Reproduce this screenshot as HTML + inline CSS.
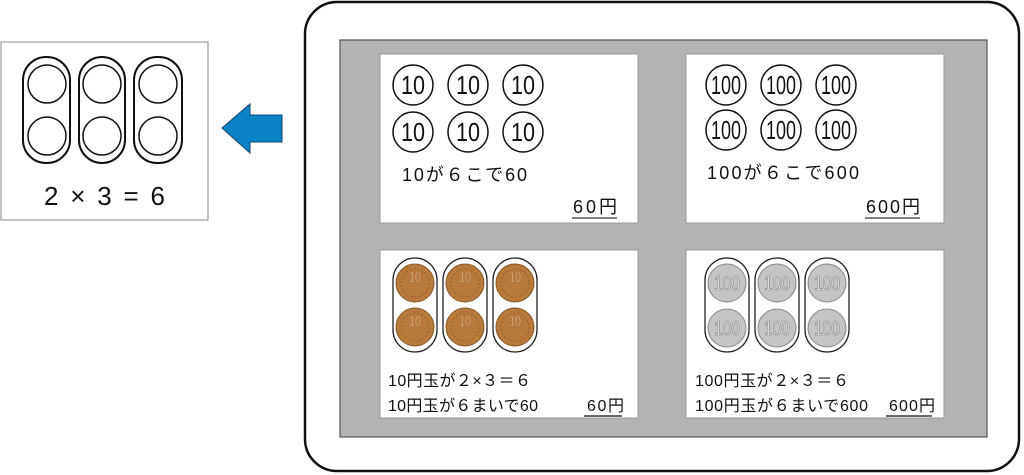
<!DOCTYPE html>
<html><head><meta charset="utf-8"><style>
html,body{margin:0;padding:0;background:#fff;width:1024px;height:475px;overflow:hidden}
text{font-family:"Liberation Sans","Noto Sans CJK JP",sans-serif;fill:#111}
</style></head><body>
<svg width="1024" height="475" viewBox="0 0 1024 475" xmlns="http://www.w3.org/2000/svg">
<defs>
<g id="c10"><circle r="20" fill="#fff" stroke="#111" stroke-width="1.5"/><text x="-12" y="9" font-size="26" textLength="24" lengthAdjust="spacingAndGlyphs">10</text></g>
<g id="c100"><circle r="20" fill="#fff" stroke="#111" stroke-width="1.5"/><text x="-15" y="9" font-size="26" textLength="30" lengthAdjust="spacingAndGlyphs">100</text></g>
<g id="b10"><circle r="19" fill="#b87a3a" stroke="#8a5a28" stroke-width="1"/><circle r="14" fill="none" stroke="#8a5a28" stroke-width="0.8" stroke-dasharray="2 2"/><text x="-6" y="-1" font-size="15" textLength="12" lengthAdjust="spacingAndGlyphs" style="fill:#f0d0a0;stroke:#8a5a28;stroke-width:0.4">10</text></g>
<g id="b100"><circle r="19" fill="#c4c4c4" stroke="#888" stroke-width="1"/><text x="-13" y="7" font-size="20" textLength="26" lengthAdjust="spacingAndGlyphs" style="fill:#eee;stroke:#777;stroke-width:0.6">100</text></g>
<rect id="cap" x="-22" y="-47" width="44" height="94" rx="22" fill="#fff" stroke="#222" stroke-width="1.3"/>
</defs>
<rect x="1" y="42" width="207" height="178" fill="#fff" stroke="#999" stroke-width="1.2"/>
<g stroke="#111" stroke-width="2" fill="none">
<rect x="23" y="57" width="47" height="106" rx="23"/>
<rect x="79" y="57" width="46" height="106" rx="23"/>
<rect x="134" y="57" width="48" height="106" rx="23"/>
<g stroke-width="1.5"><circle cx="47" cy="84" r="19"/><circle cx="47" cy="136" r="19"/>
<circle cx="102" cy="84" r="19"/><circle cx="102" cy="136" r="19"/>
<circle cx="158" cy="84" r="19"/><circle cx="158" cy="136" r="19"/></g>
</g>
<text x="44" y="205" font-size="26" textLength="121" lengthAdjust="spacing">2 × 3 = 6</text>
<polygon points="222,128 250,104 250,115 282,115 282,142 250,142 250,153" fill="#0a82c8" stroke="#13446a" stroke-width="1"/>
<rect x="305" y="2" width="714" height="469" rx="32" fill="#fff" stroke="#111" stroke-width="2.5"/>
<rect x="340" y="40" width="647" height="397" fill="#b3b3b3" stroke="#555" stroke-width="1.2"/>
<g fill="#fff" stroke="#999" stroke-width="1">
<rect x="380" y="54" width="258" height="169"/>
<rect x="686" y="54" width="258" height="169"/>
<rect x="380" y="250" width="258" height="168"/>
<rect x="686" y="250" width="258" height="168"/>
</g>
<use href="#c10" x="413" y="85"/><use href="#c10" x="468" y="85"/><use href="#c10" x="523" y="85"/>
<use href="#c10" x="413" y="132"/><use href="#c10" x="468" y="132"/><use href="#c10" x="523" y="132"/>
<text x="402" y="181" font-size="18" textLength="125" lengthAdjust="spacing">10が６こで60</text>
<text x="573" y="213" font-size="18" textLength="44" lengthAdjust="spacing">60円</text>
<line x1="572" y1="218" x2="617" y2="218" stroke="#555" stroke-width="1.5"/>
<use href="#c100" x="726" y="85"/><use href="#c100" x="781" y="85"/><use href="#c100" x="836" y="85"/>
<use href="#c100" x="726" y="130"/><use href="#c100" x="781" y="130"/><use href="#c100" x="836" y="130"/>
<text x="707" y="179" font-size="18" textLength="152" lengthAdjust="spacing">100が６こで600</text>
<text x="866" y="213" font-size="18" textLength="54" lengthAdjust="spacing">600円</text>
<line x1="865" y1="218" x2="920" y2="218" stroke="#555" stroke-width="1.5"/>
<use href="#cap" x="415" y="305"/><use href="#cap" x="465" y="305"/><use href="#cap" x="515" y="305"/>
<use href="#b10" x="415" y="283"/><use href="#b10" x="465" y="283"/><use href="#b10" x="515" y="283"/>
<use href="#b10" x="415" y="327"/><use href="#b10" x="465" y="327"/><use href="#b10" x="515" y="327"/>
<text x="388" y="386" font-size="16" textLength="143" lengthAdjust="spacing">10円玉が２×３＝６</text>
<text x="388" y="411" font-size="16" textLength="150" lengthAdjust="spacing">10円玉が６まいで60</text>
<text x="587" y="411" font-size="16" textLength="37" lengthAdjust="spacing">60円</text>
<line x1="584" y1="416" x2="622" y2="416" stroke="#111" stroke-width="1.3"/>
<use href="#cap" x="727" y="305"/><use href="#cap" x="777" y="305"/><use href="#cap" x="827" y="305"/>
<use href="#b100" x="727" y="283"/><use href="#b100" x="777" y="283"/><use href="#b100" x="827" y="283"/>
<use href="#b100" x="727" y="328"/><use href="#b100" x="777" y="328"/><use href="#b100" x="827" y="328"/>
<text x="695" y="386" font-size="16" textLength="154" lengthAdjust="spacing">100円玉が２×３＝６</text>
<text x="695" y="411" font-size="16" textLength="173" lengthAdjust="spacing">100円玉が６まいで600</text>
<text x="889" y="411" font-size="16" textLength="46" lengthAdjust="spacing">600円</text>
<line x1="886" y1="416" x2="932" y2="416" stroke="#111" stroke-width="1.3"/>
</svg>
</body></html>
